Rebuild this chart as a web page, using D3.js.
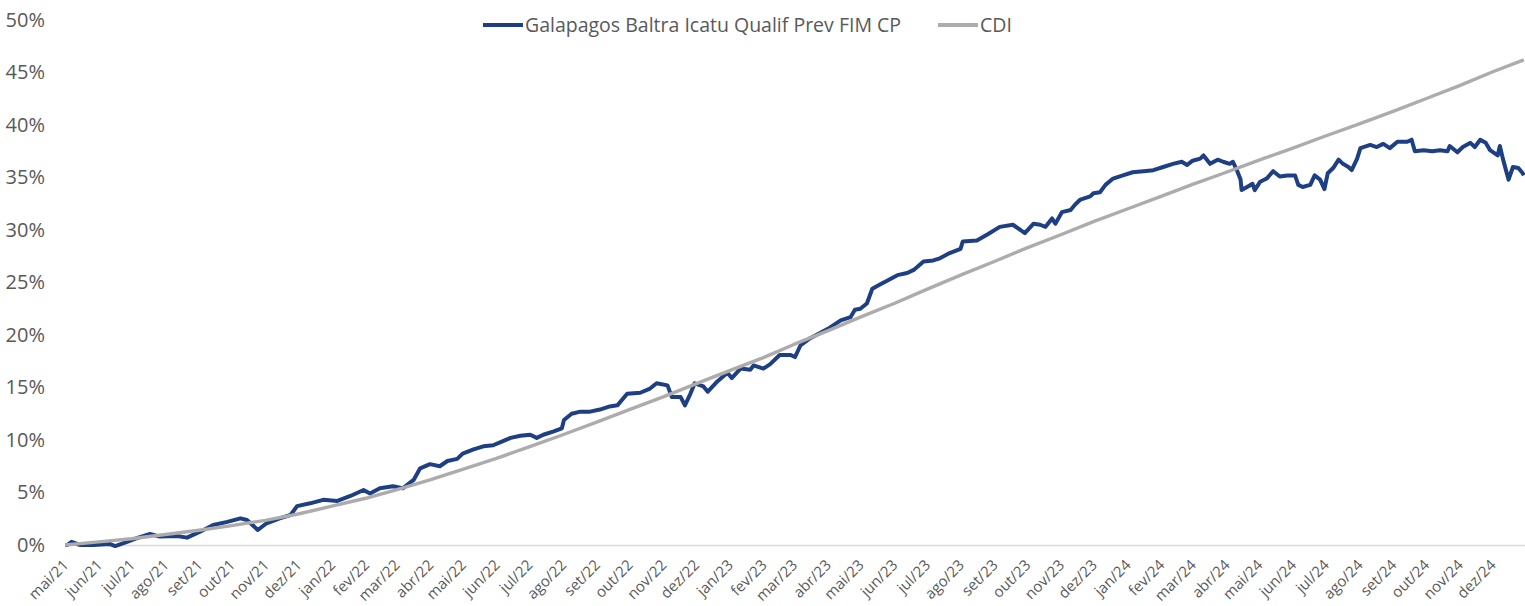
<!DOCTYPE html>
<html>
<head>
<meta charset="utf-8">
<script src="https://cdn.jsdelivr.net/npm/d3@7"></script>
<style>
  body { margin: 0; background: #fff; }
  svg text { font-family: "Open Sans", sans-serif; fill: #595959; }
</style>
</head>
<body>
<div class="graphContainer"></div>
<script>
var monthNames = ["jan", "fev", "mar", "abr", "mai", "jun", "jul", "ago", "set", "out", "nov", "dez"];
var seriesNames = ["Galapagos Baltra Icatu Qualif Prev FIM CP", "CDI"];
var seriesColors = ["#1e3f83", "#adabab"];
var yTicks = [0, 5, 10, 15, 20, 25, 30, 35, 40, 45, 50];

// fund cumulative return (%)
var fundDates = [
  "2021-05-01","2021-05-03","2021-05-07","2021-05-15","2021-05-27","2021-06-11","2021-06-16","2021-06-27",
  "2021-07-06","2021-07-18","2021-07-27","2021-08-12","2021-08-21","2021-09-02","2021-09-14","2021-09-27",
  "2021-10-09","2021-10-15","2021-10-25","2021-11-02","2021-11-14","2021-11-24","2021-11-30","2021-12-12",
  "2021-12-24","2022-01-06","2022-01-18","2022-01-30","2022-02-05","2022-02-14","2022-02-26","2022-03-07",
  "2022-03-17","2022-03-23","2022-04-01","2022-04-10","2022-04-17","2022-04-26","2022-05-01","2022-05-11",
  "2022-05-20","2022-05-29","2022-06-07","2022-06-14","2022-06-23","2022-07-02","2022-07-08","2022-07-14",
  "2022-07-23","2022-07-31","2022-08-02","2022-08-09","2022-08-17","2022-08-26","2022-09-04","2022-09-13",
  "2022-09-20","2022-09-29","2022-10-11","2022-10-20","2022-10-26","2022-11-05","2022-11-09","2022-11-17",
  "2022-11-21","2022-11-26","2022-11-30","2022-12-08","2022-12-12","2022-12-21","2022-12-30","2023-01-03",
  "2023-01-11","2023-01-20","2023-01-23","2023-02-01","2023-02-07","2023-02-16","2023-02-26","2023-03-02",
  "2023-03-07","2023-03-16","2023-03-25","2023-04-03","2023-04-13","2023-04-22","2023-04-26","2023-05-01",
  "2023-05-07","2023-05-12","2023-05-19","2023-05-26","2023-06-04","2023-06-13","2023-06-19","2023-06-28",
  "2023-07-07","2023-07-13","2023-07-22","2023-08-01","2023-08-03","2023-08-16","2023-08-26","2023-09-06",
  "2023-09-18","2023-09-25","2023-09-29","2023-10-07","2023-10-13","2023-10-18","2023-10-24","2023-10-27",
  "2023-11-02","2023-11-10","2023-11-14","2023-11-19","2023-11-28","2023-12-01","2023-12-07","2023-12-12",
  "2023-12-19","2023-12-28","2024-01-06","2024-01-16","2024-01-25","2024-02-03","2024-02-12","2024-02-20",
  "2024-02-25","2024-03-01","2024-03-08","2024-03-11","2024-03-17","2024-03-24","2024-03-29","2024-04-04",
  "2024-04-07","2024-04-11","2024-04-14","2024-04-15","2024-04-20","2024-04-25","2024-04-27","2024-05-02",
  "2024-05-08","2024-05-14","2024-05-20","2024-05-27","2024-06-03","2024-06-06","2024-06-10","2024-06-17",
  "2024-06-21","2024-06-26","2024-06-30","2024-07-03","2024-07-08","2024-07-13","2024-07-17","2024-07-22",
  "2024-07-25","2024-07-30","2024-08-02","2024-08-11","2024-08-17","2024-08-23","2024-08-29","2024-09-05",
  "2024-09-14","2024-09-18","2024-09-21","2024-09-29","2024-10-07","2024-10-14","2024-10-21","2024-10-23",
  "2024-10-30","2024-11-04","2024-11-11","2024-11-15","2024-11-20","2024-11-25","2024-11-29","2024-12-06",
  "2024-12-08","2024-12-11","2024-12-16","2024-12-20","2024-12-25","2024-12-29","2024-12-30"
];
var fundValues = [
  0.0, 0.0, 0.3, 0.0, 0.0, 0.1, -0.1, 0.3,
  0.65, 1.05, 0.8, 0.85, 0.7, 1.27, 1.9, 2.2,
  2.54, 2.38, 1.43, 2.07, 2.54, 2.86, 3.7, 3.97,
  4.3, 4.2, 4.67, 5.24, 4.9, 5.4, 5.6, 5.4,
  6.2, 7.3, 7.7, 7.5, 8.0, 8.2, 8.7, 9.1,
  9.4, 9.5, 9.9, 10.2, 10.4, 10.5, 10.2, 10.5,
  10.8, 11.1, 11.9, 12.5, 12.7, 12.7, 12.9, 13.2,
  13.3, 14.4, 14.5, 14.9, 15.4, 15.2, 14.1, 14.1,
  13.3, 14.4, 15.4, 15.1, 14.6, 15.6, 16.4, 15.9,
  16.8, 16.7, 17.1, 16.8, 17.2, 18.1, 18.1, 17.9,
  19.0, 19.7, 20.2, 20.7, 21.4, 21.7, 22.4, 22.5,
  23.0, 24.4, 24.8, 25.2, 25.7, 25.9, 26.2, 27.0,
  27.1, 27.3, 27.8, 28.2, 28.9, 29.0, 29.6, 30.3,
  30.5, 30.0, 29.7, 30.6, 30.5, 30.3, 31.1, 30.6,
  31.7, 31.9, 32.4, 32.9, 33.2, 33.5, 33.6, 34.3,
  34.9, 35.2, 35.5, 35.6, 35.7, 36.0, 36.3, 36.5,
  36.2, 36.6, 36.8, 37.1, 36.3, 36.7, 36.5, 36.3,
  36.5, 35.6, 34.8, 33.8, 34.1, 34.4, 33.8, 34.6,
  34.9, 35.6, 35.1, 35.2, 35.2, 34.3, 34.1, 34.3,
  35.2, 34.8, 33.9, 35.4, 35.9, 36.7, 36.3, 36.0,
  35.7, 36.8, 37.8, 38.1, 37.9, 38.2, 37.8, 38.4,
  38.4, 38.6, 37.5, 37.6, 37.5, 37.6, 37.5, 38.0,
  37.4, 37.9, 38.3, 37.9, 38.6, 38.3, 37.6, 37.1,
  38.0, 36.7, 34.8, 36.0, 35.9, 35.4, 35.2
];

// CDI cumulative return (%)
var cdiDates = [
  "2021-05-01","2021-06-01","2021-07-01","2021-08-01","2021-09-01","2021-10-01","2021-11-01","2021-12-01",
  "2022-01-01","2022-02-01","2022-03-01","2022-04-01","2022-05-01","2022-06-01","2022-07-01","2022-08-01",
  "2022-09-01","2022-10-01","2022-11-01","2022-12-01","2023-01-01","2023-02-01","2023-03-01","2023-04-01",
  "2023-05-01","2023-06-01","2023-07-01","2023-08-01","2023-09-01","2023-10-01","2023-11-01","2023-12-01",
  "2024-01-01","2024-02-01","2024-03-01","2024-04-01","2024-05-01","2024-06-01","2024-07-01","2024-08-01",
  "2024-09-01","2024-10-01","2024-11-01","2024-12-01","2024-12-30"
];
var cdiValues = [
  0, 0.3, 0.6, 1.0, 1.4, 1.85, 2.35, 2.95,
  3.7, 4.45, 5.25, 6.2, 7.2, 8.25, 9.35, 10.5,
  11.7, 12.9, 14.1, 15.35, 16.6, 17.85, 19.1, 20.4,
  21.7, 23.0, 24.35, 25.7, 27.0, 28.3, 29.55, 30.8,
  32.0, 33.2, 34.35, 35.5, 36.65, 37.8, 38.95, 40.1,
  41.3, 42.5, 43.75, 45.05, 46.2
];

var w = 1525,
    h = 606;

var parse = d3.timeParse("%Y-%m-%d");

var fund = fundDates.map(function (d, i) { return { date: parse(d), value: fundValues[i] }; });
var cdi = cdiDates.map(function (d, i) { return { date: parse(d), value: cdiValues[i] }; });

var x = d3.scaleTime()
  .domain([new Date(2021, 4, 1), new Date(2025, 0, 1)])
  .range([65, 1526]);

var y = d3.scaleLinear()
  .domain([0, 50])
  .range([545, 20]);

var svg = d3.select(".graphContainer")
  .append("svg")
  .attr("width", w)
  .attr("height", h);

// y axis labels only
var axisLeft = d3.axisLeft(y)
  .tickValues(yTicks)
  .tickFormat(function (d) { return d + "%"; })
  .tickSize(0)
  .tickPadding(0);

svg.append("g")
  .attr("transform", "translate(45,0)")
  .call(axisLeft)
  .call(function (g) { g.select(".domain").remove(); })
  .selectAll("text")
    .style("font-size", "20px");

// x axis, monthly, rotated labels
var monthTicks = d3.timeMonth.range(new Date(2021, 4, 1), new Date(2025, 0, 1));

var axisBottom = d3.axisBottom(x)
  .tickValues(monthTicks)
  .tickFormat(function (d) {
    return monthNames[d.getMonth()] + "/" + String(d.getFullYear()).slice(2);
  })
  .tickSize(0)
  .tickSizeOuter(0);

var gx = svg.append("g")
  .attr("transform", "translate(0,545)")
  .call(axisBottom);

gx.select(".domain")
  .attr("stroke", "#d9d9d9")
  .attr("stroke-width", 1.3);

gx.selectAll("text")
  .attr("y", 0)
  .attr("dy", 0)
  .attr("text-anchor", "end")
  .attr("transform", "translate(4,21) rotate(-45)")
  .style("font-size", "15px");

var line = d3.line()
  .x(function (d) { return x(d.date); })
  .y(function (d) { return y(d.value); });

svg.append("path")
  .datum(fund)
  .attr("fill", "none")
  .attr("stroke", seriesColors[0])
  .attr("stroke-width", 4)
  .attr("stroke-linejoin", "round")
  .attr("d", line);

svg.append("path")
  .datum(cdi)
  .attr("fill", "none")
  .attr("stroke", seriesColors[1])
  .attr("stroke-width", 3.4)
  .attr("stroke-linejoin", "round")
  .attr("d", line);

// legend
var legendX = [483, 938];
var legend = svg.selectAll(".legend")
  .data(seriesNames)
  .enter()
  .append("g")
    .attr("class", "legend")
    .attr("transform", function (d, i) { return "translate(" + legendX[i] + ",25)"; });

legend.append("line")
  .attr("x1", 0)
  .attr("x2", 40)
  .attr("stroke", function (d, i) { return seriesColors[i]; })
  .attr("stroke-width", 4);

legend.append("text")
  .attr("x", 42)
  .attr("dy", "0.35em")
  .style("font-size", "19.5px")
  .text(function (d) { return d; });
</script>
</body>
</html>
